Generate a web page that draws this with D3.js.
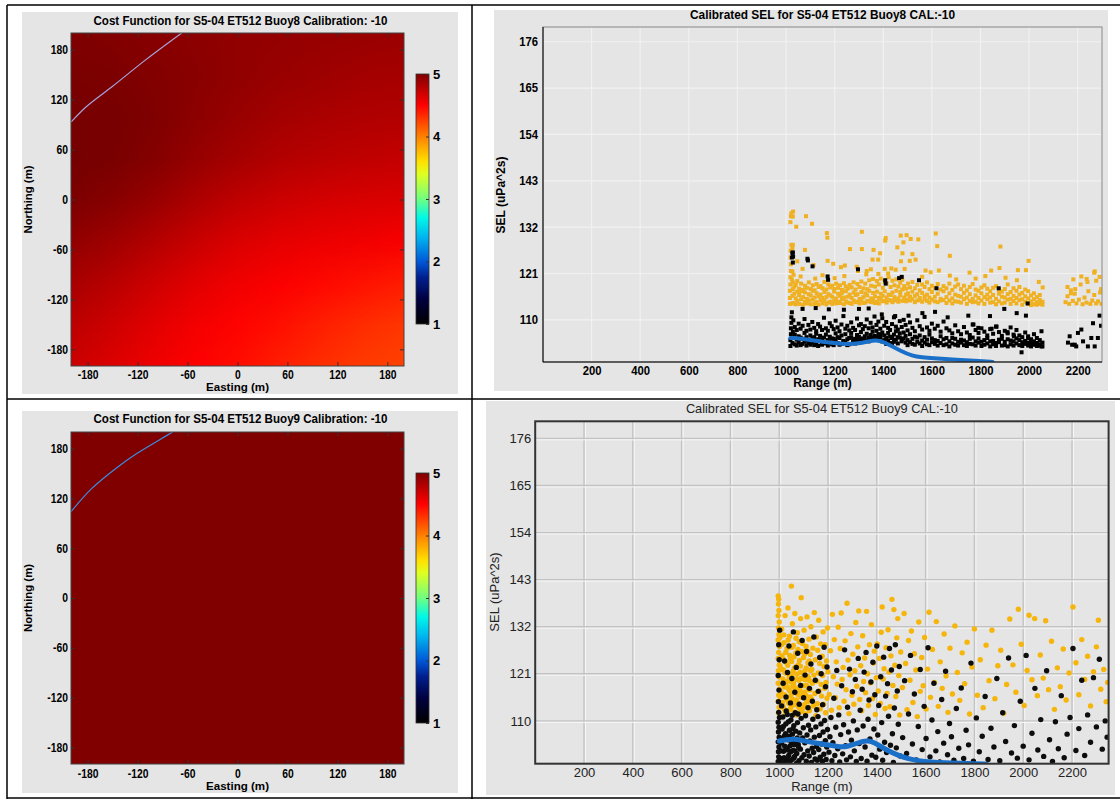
<!DOCTYPE html>
<html><head><meta charset="utf-8">
<script src="https://cdn.jsdelivr.net/npm/d3@7"></script>
<style>body{margin:0;background:#fff}svg{display:block}</style>
</head><body>
<svg id="chart" width="1120" height="799"></svg>
<script>
// ================= DATA =================
const eastingTicks = [-180, -120, -60, 0, 60, 120, 180];
const northingTicks = [-180, -120, -60, 0, 60, 120, 180];
const costTicks = [1, 2, 3, 4, 5];
const rangeTicks = [200, 400, 600, 800, 1000, 1200, 1400, 1600, 1800, 2000, 2200];
const selTicks = [110, 121, 132, 143, 154, 165, 176];

const titles = {
  cost8: "Cost Function for S5-04 ET512 Buoy8 Calibration: -10",
  cost9: "Cost Function for S5-04 ET512 Buoy9 Calibration: -10",
  sel8: "Calibrated SEL for S5-04 ET512 Buoy8 CAL:-10",
  sel9: "Calibrated SEL for S5-04 ET512 Buoy9 CAL:-10"
};

// colour map of the cost function colour bar
const cmapStops  = [1, 1.4, 1.75, 2, 2.4, 2.7, 3, 3.4, 3.6, 4, 4.5, 5, 5.1];
const cmapColors = ["#000000","#000040","#002090","#0058d8","#00b8f0","#00f8e8","#70ff80","#e0ff20","#ffe000","#ff8000","#ff0000","#800000","#700000"];

// cost-function grids (rows: northing 200 -> -200, cols: easting -200 -> 200)
const gridEasting = [-200, -150, -100, -50, 0, 50, 100, 150, 200];
const gridNorthing = [200, 150, 100, 50, 0, -50, -100, -150, -200];
const costBuoy8 = [
  [5.00, 4.99, 4.97, 4.95, 4.93, 4.92, 4.91, 4.90, 4.89],
  [5.03, 5.02, 4.99, 4.96, 4.93, 4.90, 4.88, 4.86, 4.85],
  [5.05, 5.05, 5.00, 4.95, 4.90, 4.86, 4.83, 4.81, 4.80],
  [5.06, 5.04, 4.98, 4.91, 4.85, 4.80, 4.77, 4.75, 4.73],
  [5.02, 4.97, 4.90, 4.82, 4.75, 4.70, 4.67, 4.65, 4.64],
  [4.93, 4.87, 4.79, 4.71, 4.64, 4.60, 4.57, 4.55, 4.52],
  [4.84, 4.77, 4.69, 4.61, 4.55, 4.51, 4.47, 4.43, 4.39],
  [4.76, 4.69, 4.61, 4.54, 4.49, 4.44, 4.38, 4.33, 4.29],
  [4.70, 4.63, 4.56, 4.50, 4.45, 4.38, 4.32, 4.27, 4.24]
];
const costBuoy9 = [
  [5, 5, 5, 5, 5, 5, 5, 5, 5],
  [5, 5, 5, 5, 5, 5, 5, 5, 5],
  [5, 5, 5, 5, 5, 5, 5, 5, 5],
  [5, 5, 5, 5, 5, 5, 5, 5, 5],
  [5, 5, 5, 5, 5, 5, 5, 5, 5],
  [5, 5, 5, 5, 5, 5, 5, 5, 5],
  [5, 5, 5, 5, 5, 5, 5, 5, 5],
  [5, 5, 5, 5, 5, 5, 5, 5, 5],
  [5, 5, 5, 5, 5, 5, 5, 5, 5]
];
const contourBuoy8 = [[-200, 93], [-181, 112], [-150, 136], [-110, 168], [-67, 200]];
const contourBuoy9 = [[-200, 104], [-175, 132], [-145, 157], [-121, 174], [-93, 191], [-78, 200]];

// ---- Buoy8 SEL (range m, SEL) ----
// dense orange band: [range, sel, sel, ...]
const sel8HighBand = [
 [1016,113.8,115.2,116.9],[1018,118.4,120.1,133.2],[1020,121.6,123.2,134.6],[1019,124.8,126.4],[1022,127.8,135.3],
 [1024,113.9,119.6],[1026,115.7,121.5],[1028,117.3,118.9],[1031,120.7,114.0],
 [1034,116.2,117.9],[1040,115.1,113.7,118.3],[1046,116.7,114.5,119.2],[1054,113.8,115.9,117.4],
 [1062,114.9,116.8,118.6],[1070,113.6,115.4,117.1],[1078,114.3,116.5,118.1],[1086,115.0,113.9,117.6],
 [1094,116.1,114.6,118.9],[1102,113.7,115.8,117.3],[1110,114.8,116.9,118.2],[1118,115.3,113.8,117.0],
 [1126,114.2,116.3,118.5],[1134,115.6,113.6,117.8],[1142,114.7,116.0,118.0],[1150,113.9,115.2,117.5],
 [1158,114.5,116.6,119.0],[1166,115.4,113.7,117.2],[1174,114.1,116.1,118.4],[1182,115.8,114.3,117.7],
 [1190,113.8,115.5,118.1],[1198,114.6,116.7,117.3],[1206,115.1,113.9,118.6],[1214,114.3,116.2,117.6],
 [1222,115.7,114.0,118.2],[1230,114.9,116.4,117.1],[1238,113.7,115.3,118.7],[1246,114.4,116.8,117.9],
 [1254,115.5,114.1,117.4],[1262,114.0,116.0,118.3],[1270,115.2,113.8,117.7],[1278,114.6,116.5,118.9],
 [1286,115.9,114.2,117.2],[1294,114.3,116.1,118.5],[1302,115.0,113.9,117.8],[1310,114.7,116.6,119.1],
 [1318,115.4,114.0,117.5],[1326,114.1,116.3,118.6],[1334,115.8,114.5,117.3],[1342,114.4,116.9,119.4],
 [1350,115.1,114.2,118.1],[1358,114.8,116.4,119.7],[1366,115.6,114.0,117.9],[1374,114.3,116.7,119.2],
 [1382,115.2,113.9,118.4],[1390,114.9,116.2,119.8],[1398,115.7,114.4,117.6],[1406,114.5,116.8,119.0],
 [1414,115.3,114.1,118.7],[1422,114.7,116.0,120.1],[1430,115.9,114.6,117.8],[1438,114.2,116.5,119.3],
 [1446,115.4,114.8,118.2],[1454,114.6,116.9,119.6],[1462,115.1,114.3,117.9],[1470,115.8,116.6,118.8],
 [1478,114.5,117.2,119.5],[1486,115.3,114.9,118.0],[1494,116.0,114.4,117.4],[1502,114.8,116.3,118.6],
 [1510,115.5,114.6,117.7],[1520,114.9,116.7,119.0],[1530,115.7,114.2,117.5],[1540,114.6,116.1,118.3],
 [1550,115.2,114.7,117.0],[1560,114.3,116.4,118.4],[1570,115.6,114.9,117.8],[1580,114.5,116.0,118.9],
 [1590,115.3,114.1,117.3],[1600,114.8,116.6,118.1],[1612,115.5,114.4,117.6],[1624,114.2,116.2,118.5],
 [1636,115.0,114.6,117.2],[1648,114.7,116.8,118.0],[1660,115.4,114.0,117.5],[1672,114.6,116.3,118.6],
 [1684,115.1,113.9,117.1],[1696,114.4,116.0,117.9],[1708,115.7,114.3,118.4],[1720,114.1,115.5,117.3],
 [1732,114.9,116.4,118.1],[1744,115.3,113.8,117.0],[1756,114.5,116.1,117.8],[1768,115.0,114.2,118.5],
 [1780,114.3,115.8,117.2],[1792,115.2,113.9,116.9],[1804,114.6,116.3,117.7],[1816,113.8,115.4,118.2],
 [1828,114.9,116.0,117.4],[1840,115.3,114.1,116.8],[1852,114.2,115.9,117.6],[1864,115.0,113.7,118.0],
 [1876,114.4,116.2,117.1],[1888,115.5,113.9,116.7],[1900,114.1,115.3,117.3],[1912,114.8,116.1,118.4],
 [1924,113.8,115.0,116.6],[1936,114.5,115.7,117.5],[1948,113.9,115.2,116.9],[1960,114.7,116.0,117.8],
 [1972,113.6,114.9,116.4],[1984,114.3,115.6,117.2],[1996,113.8,115.1,116.8],[2008,114.4,115.8,113.5],
 [2020,113.7,114.9,116.3],[2032,114.2,115.4,113.6],[2044,113.8,114.7,115.9],[2055,113.6,114.3],
 [2150,114.2],[2158,115.6,117.8],[2165,113.8],[2172,117.0],[2180,114.5],[2182,119.6],[2188,116.2],[2195,113.9],
 [2205,114.8],[2212,118.4],[2215,120.3],[2220,113.7],[2228,115.3],[2236,114.1],[2240,119.0],[2244,116.8],
 [2252,113.8],[2260,114.6],[2268,115.9],[2270,121.5],[2276,113.9],[2284,114.4],[2290,120.2],[2292,116.5],[2296,117.3],[2298,113.8]
];
const sel8HighSparse = [
 [1029,135.7],[1028,134.5],[1082,134.6],[1042,132.1],[1107,132.8],[1168,130.6],[1170,129.5],[1312,130.9],
 [1408,128.8],[1410,129.4],[1472,130.0],[1496,130.1],[1483,128.4],[1544,129.1],[1616,130.5],[1622,127.5],
 [1674,125.2],[1882,127.4],[1028,127.8],[1026,127.0],[1078,126.6],[1263,126.8],[1312,126.8],[1360,126.6],
 [1387,125.8],[1458,127.2],[1479,125.8],[1520,125.6],[1513,129.2],[1046,123.9],[1068,122.1],[1113,123.0],
 [1171,124.0],[1194,123.3],[1226,122.5],[1242,122.9],[1291,122.6],[1296,121.6],[1332,121.6],[1349,122.0],
 [1379,124.3],[1356,124.3],[1406,122.1],[1433,122.2],[1451,121.9],[1473,123.9],[1488,122.1],[1509,124.0],
 [1533,124.3],[1574,121.7],[1595,121.3],[1629,121.7],[1674,120.5],[1755,121.2],[1844,121.7],[1878,122.3],
 [1903,120.0],[1954,121.8],[1987,121.8],[1998,124.0],[2056,117.7],[2172,116.3],[2190,117.3],[2237,119.7],
 [2268,121.2],[2276,119.3],[1060,120.3],[1120,119.8],[1150,120.6],[1200,119.9],[1240,120.4],[1330,120.8],
 [1380,120.9],[1420,121.0],[1560,120.2],[1700,119.6],[1780,119.8],[1820,120.4],[1950,119.4],[2040,119.0]
];
// dense black band: [range, sel, sel, ...]
const sel8LowBand = [
 [1018,103.8,105.2],[1020,106.6,108.0],[1022,109.3,110.6],[1024,111.8,124.8],[1026,104.5,125.9],[1028,107.2,123.6],[1030,109.9],
 [1036,104.2,106.5,108.3],[1044,105.3,103.9,107.6],[1052,106.1,104.7,109.1],[1060,104.0,105.8,107.9],
 [1068,105.5,104.3,108.6],[1076,104.8,106.9,110.2],[1084,103.9,105.9,107.4],[1092,105.1,104.5,108.8],
 [1100,106.3,104.1,107.7],[1108,104.6,105.6,109.5],[1116,105.9,104.0,108.1],[1124,104.3,106.7,107.3],
 [1132,105.4,103.8,109.0],[1140,104.9,106.2,108.4],[1148,104.1,105.3,107.6],[1156,105.8,104.6,110.5],
 [1164,104.4,106.5,108.0],[1172,105.2,103.9,107.4],[1180,104.7,106.0,109.2],[1188,105.6,104.2,108.5],
 [1196,104.0,105.5,107.8],[1204,105.1,106.8,109.8],[1212,104.5,105.9,108.2],[1220,105.7,104.1,107.3],
 [1228,104.3,106.3,108.9],[1236,105.0,104.8,110.9],[1244,104.6,106.6,107.9],[1252,105.4,104.0,108.6],
 [1260,104.2,105.7,107.5],[1268,105.9,106.9,109.4],[1276,104.7,105.2,108.1],[1284,105.5,104.4,107.6],
 [1292,104.9,106.4,110.3],[1300,105.3,106.0,108.7],[1308,104.8,107.1,109.0],[1316,105.6,104.9,107.8],
 [1324,106.1,105.2,108.5],[1332,105.0,106.7,110.1],[1340,105.8,104.9,108.0],[1348,106.4,105.5,109.3],
 [1356,105.7,107.2,108.2],[1364,106.2,105.9,110.8],[1372,106.0,107.4,108.8],[1380,105.8,106.6,109.6],
 [1388,106.5,105.9,107.9],[1396,104.9,107.0,110.4],[1404,105.2,106.3,108.6],[1412,104.3,105.8,109.5],
 [1420,105.0,106.9,108.1],[1428,104.5,106.0,107.6],[1436,105.7,104.1,109.0],[1444,104.8,106.5,110.6],
 [1452,105.3,107.3,108.4],[1460,104.4,105.9,107.7],[1468,105.8,106.8,109.7],[1476,104.9,105.4,108.3],
 [1484,105.6,107.0,110.0],[1492,104.6,106.2,108.8],[1500,105.2,104.0,107.5],[1510,104.7,106.6,109.4],
 [1520,105.5,104.3,108.1],[1530,104.1,106.0,107.3],[1540,105.8,104.8,109.9],[1550,104.4,106.3,108.5],
 [1560,105.1,103.8,107.7],[1570,104.6,105.9,110.7],[1580,105.3,104.2,108.2],[1590,104.0,106.5,107.4],
 [1600,105.6,104.7,109.1],[1612,104.3,105.2,107.9],[1624,105.0,103.9,108.6],[1636,104.5,106.1,107.2],
 [1648,105.4,104.0,109.6],[1660,104.2,105.7,108.0],[1672,104.9,103.7,107.5],[1684,105.7,104.4,106.8],
 [1696,104.1,105.5,108.7],[1708,104.8,103.9,107.3],[1720,105.3,104.6,106.6],[1732,104.0,105.1,108.3],
 [1744,104.7,103.8,107.0],[1756,105.5,104.3,106.4],[1768,104.2,105.8,108.9],[1780,103.9,104.9,107.6],
 [1792,104.6,105.6,106.9],[1804,103.8,104.8,108.0],[1816,105.2,104.1,107.2],[1828,104.4,105.7,106.3],
 [1840,103.7,104.9,107.8],[1852,105.0,104.2,106.7],[1864,104.5,103.8,108.4],[1876,105.3,104.7,107.1],
 [1888,103.9,105.5,106.2],[1900,104.8,104.0,107.4],[1912,105.4,103.7,106.8],[1924,104.2,105.1,108.2],
 [1936,104.9,103.9,106.5],[1948,105.6,104.4,107.6],[1960,104.0,105.2,106.3],[1972,104.7,103.8,105.9],
 [1984,104.3,105.0,107.0],[1996,103.9,104.6,106.1],[2008,104.5,103.7,105.4],[2020,104.1,104.9,106.6],
 [2032,103.8,104.4,105.7],[2044,104.2,103.9,105.2],[2055,103.7,104.6]
];
const sel8LowSparse = [
 [1028,126.0],[1029,125.0],[1088,124.5],[1090,124.1],[1109,122.7],[1171,120.3],[1173,119.5],[1296,122.0],
 [1408,119.4],[1410,118.6],[1465,119.9],[1476,120.2],[1547,119.4],[1619,117.5],[1875,117.5],[1994,113.9],
 [1068,112.6],[1122,112.8],[1176,112.5],[1238,112.4],[1300,112.6],[1340,112.7],[1394,111.3],[1449,110.9],
 [1504,111.0],[1561,111.6],[1613,111.9],[1665,110.6],[1750,111.0],[1839,110.9],[1898,112.6],[1949,111.6],
 [1987,111.0],[2051,107.3],[1771,108.9],[1791,108.1],[1846,107.9],[1866,108.4],[1911,107.1],[1938,106.1],
 [1969,102.3],[1996,105.7],[2030,104.5],[2051,103.7],[2167,106.1],[2201,106.9],[2215,107.7],[2242,103.7],
 [2263,109.2],[2270,103.7],[2283,105.7],[2188,104.1],[2177,104.1],[2256,105.7],[2222,104.9],[2194,103.7],
 [2290,111.0],[2296,108.6],[2160,104.6]
];
const sel8Model = [[1018,105.7],[1050,105.6],[1100,105.2],[1150,104.8],[1200,104.5],[1250,104.2],[1300,104.4],
 [1340,104.9],[1370,105.2],[1400,104.8],[1430,103.9],[1470,102.7],[1520,101.4],[1560,101.1],[1600,100.9],
 [1700,100.5],[1800,100.2],[1850,100.0]];

// ---- Buoy9 SEL (range m, SEL) ----
const sel9High = [
 [996,139.2],[998,138.4],[997,137.3],[999,135.8],[996,134.6],[1000,133.1],[997,131.7],[999,130.2],[996,128.9],[1001,127.4],
 [998,126.0],[996,124.6],[1000,123.1],[997,121.7],[999,120.3],[996,118.8],[1001,117.4],[998,116.0],[996,114.6],[1000,113.2],
 [997,111.9],[1003,129.5],[1004,122.8],[1005,115.7],
 [1010,131.5],[1012,125.2],[1014,118.6],[1016,113.4],[1018,121.9],[1020,128.3],[1022,116.1],[1024,134.6],[1026,111.8],[1028,123.7],
 [1030,119.2],[1032,126.9],[1034,114.8],[1036,136.4],[1038,121.0],[1040,117.3],[1042,129.8],[1044,112.6],[1046,124.5],[1048,115.9],
 [1050,141.5],[1052,120.4],[1054,132.7],[1056,118.1],[1058,127.6],[1060,113.7],[1062,122.3],[1064,135.1],[1066,116.8],[1068,125.9],
 [1070,111.4],[1072,119.7],[1074,130.6],[1076,114.2],[1078,123.1],[1080,117.8],[1082,128.5],[1084,112.9],[1086,121.4],[1088,133.9],
 [1090,138.8],[1092,115.5],[1094,126.2],[1096,119.9],[1098,113.1],[1100,124.8],[1102,131.2],[1104,116.7],[1106,121.8],[1108,111.6],
 [1110,127.4],[1112,118.3],[1114,134.3],[1116,114.5],[1118,123.6],[1120,120.1],[1122,129.1],[1124,112.4],[1126,117.2],[1128,125.5],
 [1130,132.0],[1132,115.1],[1134,122.0],[1136,118.8],[1138,127.0],[1140,113.5],[1142,120.7],[1144,135.3],[1146,116.4],[1148,124.3],
 [1150,111.2],[1152,129.6],[1154,119.3],[1156,114.0],[1158,126.5],[1160,121.2],[1162,133.5],[1164,117.0],[1166,123.4],[1168,112.8],
 [1170,128.0],[1172,118.5],[1174,115.8],[1176,125.1],[1178,120.6],[1180,130.8],[1182,113.9],[1184,122.7],[1186,117.6],[1188,127.8],
 [1190,111.9],[1192,119.0],[1194,124.0],[1196,115.3],[1198,131.7],[1200,121.5],
 [1007,116.8],[1009,122.1],[1011,127.9],[1013,114.3],[1015,119.8],[1017,124.4],[1019,130.1],[1021,112.7],[1023,117.9],[1025,121.2],
 [1027,126.0],[1029,115.2],[1031,112.3],[1033,118.0],[1035,123.0],[1037,128.9],[1039,114.1],[1041,120.2],[1043,125.3],[1045,116.9],
 [1047,113.0],[1049,119.1],[1051,123.9],[1053,127.2],[1055,115.0],[1057,121.6],[1059,118.7],[1061,125.0],[1063,112.1],[1065,117.5],
 [1067,122.6],[1069,129.3],[1071,114.9],[1073,120.9],[1075,116.2],[1077,126.7],[1079,113.3],[1081,119.5],[1083,124.1],[1085,117.1],
 [1087,122.8],[1089,115.7],[1091,120.0],[1093,112.2],[1095,128.1],[1097,116.3],[1099,121.1],[1101,118.2],[1103,113.8],[1105,125.7],
 [1107,119.6],[1109,116.0],[1111,122.4],[1113,114.7],[1115,120.5],[1117,126.3],[1119,117.4],[1121,113.2],[1123,124.0],[1125,119.4],
 [1127,115.6],[1129,121.8],
 [1205,116.2],[1210,126.4],[1214,112.5],[1218,134.9],[1222,120.3],[1226,129.0],[1230,115.4],[1234,123.8],[1238,118.6],[1242,131.9],
 [1246,113.1],[1250,126.9],[1254,135.2],[1258,119.7],[1262,122.5],[1266,114.6],[1270,128.7],[1274,117.3],[1278,137.5],[1282,124.2],
 [1286,111.7],[1290,120.8],[1294,130.4],[1298,116.0],[1302,125.6],[1306,113.9],[1310,121.7],[1314,133.0],[1318,118.1],[1322,127.3],
 [1326,135.7],[1330,115.0],[1334,122.9],[1338,112.4],[1342,129.9],[1346,119.2],[1350,124.7],[1354,116.6],[1358,135.6],[1362,121.0],
 [1366,113.6],[1370,127.8],[1374,118.9],[1378,132.5],[1382,115.2],[1386,123.5],[1390,126.3],[1394,111.5],[1398,120.1],[1402,128.0],
 [1406,117.0],[1410,124.6],[1414,114.1],[1418,130.7],[1422,136.6],[1426,119.8],[1430,122.2],[1434,112.9],[1438,127.1],[1442,116.4],
 [1446,131.3],[1450,121.4],[1454,113.3],[1458,125.2],[1462,138.4],[1466,118.3],[1470,136.0],[1474,123.0],[1478,115.7],[1482,129.4],
 [1486,133.9],[1490,120.6],[1494,111.4],[1498,126.1],
 [1505,117.8],[1512,135.1],[1518,123.4],[1524,112.6],[1530,128.8],[1536,119.5],[1542,131.0],[1548,114.3],[1554,125.7],[1560,121.9],
 [1566,111.0],[1572,133.1],[1578,116.9],[1584,124.8],[1590,118.2],[1596,129.5],[1602,112.8],[1608,122.1],[1614,135.4],[1620,115.5],
 [1628,126.7],[1636,119.0],[1644,133.2],[1652,113.4],[1660,123.8],[1668,117.6],[1676,130.3],[1684,120.5],[1692,112.0],[1700,127.0],
 [1710,116.3],[1720,132.2],[1730,121.3],[1740,114.8],[1750,125.9],[1760,118.7],[1770,128.4],[1780,111.6],[1790,122.6],[1800,131.5],
 [1812,116.0],[1824,124.3],[1836,113.1],[1848,127.7],[1860,119.4],[1872,131.2],[1884,115.2],[1896,122.9],[1908,126.5],[1920,111.8],
 [1932,118.5],[1945,133.8],[1958,123.1],[1970,116.7],[1980,136.1],[1992,127.9],[2004,113.6],[2016,121.8],[2024,134.7],[2036,119.6],
 [2047,133.9],[2058,115.9],[2070,125.4],[2082,120.0],[2092,133.4],[2104,117.3],[2116,128.6],[2128,112.7],[2140,122.4],[2152,118.0],
 [2164,126.8],[2176,114.9],[2188,121.2],[2204,136.6],[2216,123.6],[2228,116.1],[2240,129.0],[2252,119.7],[2264,125.1],[2276,113.5],
 [2288,121.5],[2300,127.3],[2308,133.5],[2318,117.4],[2330,122.0],[2340,114.5],[2346,119.0]
];
const sel9Low = [
 [996,100.5],[998,101.6],[997,102.8],[999,103.9],[996,105.1],[1000,106.2],[997,107.4],[999,108.5],[996,109.7],[1001,110.8],
 [998,112.0],[997,114.5],[999,117.2],[996,120.6],[1000,124.3],[998,127.8],[1002,131.2],
 [1006,101.2],[1009,104.8],[1012,108.1],[1015,110.9],[1018,102.9],[1021,106.5],[1024,100.4],[1027,109.3],[1030,103.7],[1033,111.5],
 [1036,105.6],[1039,101.9],[1042,107.8],[1045,104.2],[1048,110.2],[1051,100.9],[1054,106.9],[1057,103.1],[1060,108.9],[1063,101.7],
 [1066,111.9],[1069,105.0],[1072,102.4],[1075,109.6],[1078,104.5],[1081,100.7],[1084,107.2],[1087,103.4],[1090,110.6],[1093,101.4],
 [1096,106.0],[1099,108.4],[1102,102.1],[1105,104.9],[1108,111.2],[1111,100.6],[1114,106.7],[1117,103.0],[1120,109.0],[1123,101.8],
 [1126,105.3],[1129,107.9],[1132,100.3],[1135,103.6],[1138,110.4],[1141,102.6],[1144,106.2],[1147,101.1],[1150,108.6],[1153,104.0],
 [1156,100.8],[1159,111.0],[1162,103.3],[1165,106.6],[1168,101.5],[1171,109.3],[1174,104.6],[1177,100.5],[1180,107.4],[1183,102.2],
 [1186,110.1],[1189,105.4],[1192,101.0],[1195,103.9],[1198,108.0],
 [1008,103.0],[1011,100.2],[1014,105.9],[1017,108.7],[1020,101.4],[1023,104.1],[1026,107.0],[1029,112.3],[1032,101.0],[1035,103.2],
 [1038,109.8],[1041,106.4],[1044,100.6],[1047,102.8],[1050,105.2],[1053,111.3],[1056,108.2],[1059,101.3],[1062,104.4],[1065,103.0],
 [1068,107.6],[1071,100.1],[1074,106.0],[1077,111.6],[1080,103.8],
 [1010,113.5],[1016,118.8],[1022,124.0],[1028,115.6],[1034,121.3],[1040,127.5],[1046,114.2],[1052,119.9],[1058,130.8],[1064,116.7],
 [1070,122.5],[1076,125.8],[1082,113.9],[1088,118.3],[1094,128.8],[1100,115.4],[1106,120.7],[1112,126.2],[1118,113.1],[1124,117.6],
 [1130,123.3],[1136,114.6],[1142,129.6],[1148,119.5],[1154,112.6],[1160,116.9],[1166,124.8],[1172,121.0],[1178,113.8],[1184,127.2],
 [1190,118.0],[1196,122.6],
 [1204,102.7],[1208,106.3],[1212,110.8],[1216,100.7],[1220,104.9],[1224,115.3],[1228,101.9],[1232,108.5],[1236,121.8],[1240,103.5],
 [1244,111.4],[1248,100.4],[1252,106.8],[1256,118.2],[1260,102.3],[1264,109.1],[1268,126.6],[1272,104.2],[1276,100.9],[1280,113.2],
 [1284,107.4],[1288,122.1],[1292,101.6],[1296,105.5],[1300,116.8],[1304,110.0],[1308,103.0],[1312,119.7],[1316,100.5],[1320,107.9],
 [1324,124.6],[1328,104.7],[1332,112.5],[1336,101.2],[1340,117.4],[1344,108.8],[1348,121.4],[1352,103.9],[1356,126.0],[1360,100.6],
 [1364,110.4],[1368,114.9],[1372,105.8],[1376,119.1],[1380,102.0],[1384,123.7],[1388,108.1],[1392,116.1],[1396,101.5],[1400,127.5],
 [1404,106.7],[1408,113.6],[1412,103.4],[1416,120.3],[1420,109.6],[1424,100.8],[1428,124.9],[1432,105.0],[1436,115.8],[1440,102.6],
 [1444,118.7],[1448,111.1],[1452,126.9],[1456,104.3],[1460,121.9],[1464,107.0],[1468,100.3],[1472,113.0],[1476,127.8],[1480,103.7],
 [1484,117.0],[1488,109.2],[1492,122.7],[1496,101.8],
 [1506,106.1],[1514,119.4],[1522,102.4],[1530,111.6],[1538,125.3],[1546,104.6],[1554,116.3],[1562,100.9],[1570,108.7],[1578,122.0],
 [1586,103.3],[1594,113.4],[1602,105.9],[1610,127.1],[1618,101.6],[1626,110.2],[1634,118.8],[1642,103.0],[1650,107.5],[1658,100.4],
 [1666,115.0],[1674,104.8],[1682,121.6],[1690,102.1],[1698,109.4],[1706,106.3],[1716,100.8],[1726,112.9],[1736,103.6],[1746,117.7],
 [1756,101.2],[1766,107.8],[1776,104.4],[1786,123.5],[1796,100.6],[1808,110.7],[1820,102.8],[1832,106.4],[1844,115.7],[1856,101.0],
 [1868,108.3],[1880,103.9],[1892,119.9],[1904,100.7],[1916,111.9],[1928,105.2],[1940,124.7],[1952,102.5],[1964,108.9],[1976,101.3],
 [1988,114.6],[2000,104.1],[2012,125.3],[2024,100.9],[2036,107.1],[2048,117.6],[2060,103.2],[2072,110.3],[2084,101.7],[2096,121.7],
 [2108,105.6],[2120,100.5],[2132,109.8],[2144,103.5],[2156,115.9],[2168,101.4],[2180,106.9],[2192,110.8],[2204,126.9],[2216,103.1],
 [2228,108.2],[2240,119.5],[2252,101.9],[2264,111.4],[2276,105.0],[2288,120.1],[2300,108.6],[2312,124.4],[2324,103.4],[2336,110.0],[2344,106.2]
];
const sel9Model = [[1000,105.3],[1030,105.6],[1060,105.8],[1090,105.5],[1130,105.0],[1170,104.7],[1210,104.3],[1250,103.9],
 [1280,104.0],[1310,104.6],[1340,105.2],[1365,105.4],[1390,104.9],[1420,103.9],[1450,102.9],[1490,101.9],[1530,101.1],
 [1570,100.7],[1620,100.4],[1680,100.2],[1740,100.1],[1800,100.0],[1850,99.9]];

// ================= DRAWING =================
const NARROW = '"Liberation Sans Narrow","Arial Narrow","Liberation Sans",Arial,sans-serif';
const REG = '"Liberation Sans",Arial,Helvetica,sans-serif';
const svg = d3.select('#chart');
const defs = svg.append('defs');
const cmap = d3.scaleLinear().domain(cmapStops).range(cmapColors).clamp(true);
const fmt = d => String(d);
const noLabel = () => '';

const grad = defs.append('linearGradient').attr('id', 'cbgrad')
  .attr('x1', 0).attr('y1', 1).attr('x2', 0).attr('y2', 0);
cmapStops.filter(s => s <= 5).forEach(s =>
  grad.append('stop').attr('offset', (s - 1) / 4).attr('stop-color', cmap(s)));

function styleAxis(sel, font, size, weight) {
  sel.select('.domain').remove();
  sel.selectAll('line').attr('stroke', '#333');
  sel.selectAll('text').attr('font-family', font).attr('font-size', size)
    .attr('font-weight', weight).attr('fill', '#000');
}
// condense text horizontally (the reference uses a narrow face)
function condense(sel, factor) {
  sel.each(function () {
    const w = this.getComputedTextLength();
    if (w > 0) d3.select(this).attr('textLength', w * factor).attr('lengthAdjust', 'spacingAndGlyphs');
  });
}

function heatPanel(o) {
  const g = svg.append('g');
  g.append('rect').attr('x', o.bg[0]).attr('y', o.bg[1]).attr('width', o.bg[2]).attr('height', o.bg[3]).attr('fill', '#e5e5e5');
  const [px, py, pw, ph] = o.plot;
  const x = d3.scaleLinear().domain([-200, 200]).range([px, px + pw]);
  const y = d3.scaleLinear().domain([-200, 200]).range([py + ph, py]);
  const nx = gridEasting.length, ny = gridNorthing.length;
  const cv = document.createElement('canvas'); cv.width = nx; cv.height = ny;
  const ctx = cv.getContext('2d');
  o.grid.forEach((row, i) => row.forEach((v, j) => { ctx.fillStyle = cmap(v); ctx.fillRect(j, i, 1, 1); }));
  const hx = (gridEasting[1] - gridEasting[0]) / 2, hy = (gridNorthing[0] - gridNorthing[1]) / 2;
  defs.append('clipPath').attr('id', o.id).append('rect').attr('x', px).attr('y', py).attr('width', pw).attr('height', ph);
  g.append('image').attr('href', cv.toDataURL())
    .attr('x', x(gridEasting[0] - hx)).attr('y', y(gridNorthing[0] + hy))
    .attr('width', x(gridEasting[nx - 1] + hx) - x(gridEasting[0] - hx))
    .attr('height', y(gridNorthing[ny - 1] - hy) - y(gridNorthing[0] + hy))
    .attr('preserveAspectRatio', 'none').attr('clip-path', `url(#${o.id})`);
  g.append('path').datum(o.contour)
    .attr('d', d3.line().x(d => x(d[0])).y(d => y(d[1])).curve(d3.curveCatmullRom))
    .attr('fill', 'none').attr('stroke', o.lineColor).attr('stroke-width', 1.2).attr('clip-path', `url(#${o.id})`);
  g.append('rect').attr('x', px).attr('y', py).attr('width', pw).attr('height', ph)
    .attr('fill', 'none').attr('stroke', '#444').attr('stroke-width', 1);
  const bx = g.append('g').attr('transform', `translate(0,${py + ph})`)
    .call(d3.axisBottom(x).tickValues(eastingTicks).tickSize(-4).tickPadding(o.xPad).tickFormat(fmt))
    .call(s => styleAxis(s, NARROW, 12, 'bold'));
  const ly = g.append('g').attr('transform', `translate(${px},0)`)
    .call(d3.axisLeft(y).tickValues(northingTicks).tickSize(-4).tickPadding(3).tickFormat(fmt))
    .call(s => styleAxis(s, NARROW, 12, 'bold'));
  g.append('g').attr('transform', `translate(0,${py})`)
    .call(d3.axisTop(x).tickValues(eastingTicks).tickSize(-4).tickFormat(noLabel))
    .call(s => styleAxis(s, NARROW, 12, 'bold'));
  g.append('g').attr('transform', `translate(${px + pw},0)`)
    .call(d3.axisRight(y).tickValues(northingTicks).tickSize(-4).tickFormat(noLabel))
    .call(s => styleAxis(s, NARROW, 12, 'bold'));
  condense(bx.selectAll('text'), 0.86);
  condense(ly.selectAll('text'), 0.86);
  // colour bar
  const c = o.cbar;
  const cy = d3.scaleLinear().domain([1, 5]).range([c[1] + c[3], c[1]]);
  g.append('rect').attr('x', c[0]).attr('y', c[1]).attr('width', c[2]).attr('height', c[3])
    .attr('fill', 'url(#cbgrad)').attr('stroke', '#333').attr('stroke-width', 0.8);
  g.append('g').attr('transform', `translate(${c[0] + c[2]},0)`)
    .call(d3.axisRight(cy).tickValues(costTicks).tickSize(-3).tickPadding(4).tickFormat(fmt))
    .call(s => styleAxis(s, NARROW, 13, 'bold'));
  // texts
  g.append('text').attr('x', px + pw / 2 + 3).attr('y', o.titleY).attr('text-anchor', 'middle')
    .attr('font-family', NARROW).attr('font-weight', 'bold').attr('font-size', 12)
    .attr('textLength', 294).attr('lengthAdjust', 'spacingAndGlyphs').text(o.title);
  g.append('text').attr('x', px + pw / 2).attr('y', o.xlabY).attr('text-anchor', 'middle')
    .attr('font-family', NARROW).attr('font-weight', 'bold').attr('font-size', 11.5)
    .attr('textLength', 63).attr('lengthAdjust', 'spacingAndGlyphs').text('Easting (m)');
  g.append('text').attr('transform', `translate(28,${py + ph / 2}) rotate(-90)`).attr('text-anchor', 'middle')
    .attr('dominant-baseline', 'central')
    .attr('font-family', NARROW).attr('font-weight', 'bold').attr('font-size', 11.5)
    .attr('textLength', 68).attr('lengthAdjust', 'spacingAndGlyphs').text('Northing (m)');
}

function selPanel(o) {
  const g = svg.append('g');
  g.append('rect').attr('x', o.bg[0]).attr('y', o.bg[1]).attr('width', o.bg[2]).attr('height', o.bg[3]).attr('fill', '#e5e5e5');
  const [x0, x1, y0, y1] = o.plot;
  const x = d3.scaleLinear().domain(o.xDom).range([x0, x1]);
  const y = d3.scaleLinear().domain(o.yDom).range([y1, y0]);
  // grid
  const gg = g.append('g');
  if (o.modern) {
    rangeTicks.forEach(t => {
      gg.append('line').attr('x1', x(t)).attr('x2', x(t)).attr('y1', y0).attr('y2', y1).attr('stroke', '#c3c3c3').attr('stroke-width', 1.4);
      gg.append('line').attr('x1', x(t) + 1.5).attr('x2', x(t) + 1.5).attr('y1', y0).attr('y2', y1).attr('stroke', '#f6f6f6').attr('stroke-width', 1);
    });
    selTicks.forEach(t => {
      gg.append('line').attr('y1', y(t)).attr('y2', y(t)).attr('x1', x0).attr('x2', x1).attr('stroke', '#c3c3c3').attr('stroke-width', 1.4);
      gg.append('line').attr('y1', y(t) + 1.5).attr('y2', y(t) + 1.5).attr('x1', x0).attr('x2', x1).attr('stroke', '#f6f6f6').attr('stroke-width', 1);
    });
  } else {
    rangeTicks.forEach(t => gg.append('line').attr('x1', x(t)).attr('x2', x(t)).attr('y1', y0).attr('y2', y1).attr('stroke', '#f1f1f1').attr('stroke-width', 1.2));
    selTicks.forEach(t => gg.append('line').attr('y1', y(t)).attr('y2', y(t)).attr('x1', x0).attr('x2', x1).attr('stroke', '#f1f1f1').attr('stroke-width', 1.2));
  }
  defs.append('clipPath').attr('id', o.id).append('rect').attr('x', x0).attr('y', y0).attr('width', x1 - x0).attr('height', y1 - y0);
  const data = g.append('g').attr('clip-path', `url(#${o.id})`);
  o.series.forEach(s => {
    if (o.modern) {
      data.append('g').selectAll('circle').data(s.pts).join('circle')
        .attr('cx', d => x(d[0])).attr('cy', d => y(d[1])).attr('r', 2.7).attr('fill', s.color);
    } else {
      data.append('g').selectAll('rect').data(s.pts).join('rect')
        .attr('x', d => x(d[0]) - 2).attr('y', d => y(d[1]) - 2).attr('width', 4).attr('height', 4).attr('fill', s.color);
    }
  });
  data.append('path').datum(o.model)
    .attr('d', d3.line().x(d => x(d[0])).y(d => y(d[1])).curve(d3.curveBasis))
    .attr('fill', 'none').attr('stroke', '#1a70c8').attr('stroke-width', o.lineW).attr('stroke-linecap', 'round');
  // frame
  if (o.modern) {
    g.append('rect').attr('x', x0).attr('y', y0).attr('width', x1 - x0).attr('height', y1 - y0)
      .attr('fill', 'none').attr('stroke', '#333').attr('stroke-width', 2);
  } else {
    g.append('rect').attr('x', x0).attr('y', y0).attr('width', x1 - x0).attr('height', y1 - y0)
      .attr('fill', 'none').attr('stroke', '#888').attr('stroke-width', 1);
    g.append('line').attr('x1', x0).attr('x2', x0).attr('y1', y0).attr('y2', y1).attr('stroke', '#000');
    g.append('line').attr('x1', x0).attr('x2', x1).attr('y1', y1).attr('y2', y1).attr('stroke', '#000');
  }
  const font = o.modern ? REG : NARROW, size = o.modern ? 13 : 12, weight = o.modern ? 'normal' : 'bold';
  const fill = o.modern ? '#222' : '#000';
  const bx = g.append('g').attr('transform', `translate(0,${y1})`)
    .call(d3.axisBottom(x).tickValues(rangeTicks).tickSize(0).tickPadding(o.xPad).tickFormat(fmt))
    .call(s => { styleAxis(s, font, size, weight); s.selectAll('text').attr('fill', fill); });
  const ly = g.append('g').attr('transform', `translate(${x0},0)`)
    .call(d3.axisLeft(y).tickValues(selTicks).tickSize(0).tickPadding(o.yPad).tickFormat(fmt))
    .call(s => { styleAxis(s, font, size, weight); s.selectAll('text').attr('fill', fill); });
  if (!o.modern) { condense(bx.selectAll('text'), 0.94); condense(ly.selectAll('text'), 0.94); }
  g.append('text').attr('x', (x0 + x1) / 2).attr('y', o.titleY).attr('text-anchor', 'middle')
    .attr('font-family', font).attr('font-weight', weight).attr('font-size', o.modern ? 13 : 12).attr('fill', fill)
    .attr('textLength', o.titleLen).attr('lengthAdjust', 'spacingAndGlyphs').text(o.title);
  g.append('text').attr('x', (x0 + x1) / 2).attr('y', o.xlabY).attr('text-anchor', 'middle')
    .attr('font-family', font).attr('font-weight', weight).attr('font-size', size).attr('fill', fill).text('Range (m)');
  g.append('text').attr('transform', `translate(${o.ylabX},${o.ylabCY}) rotate(-90)`).attr('text-anchor', 'middle')
    .attr('dominant-baseline', 'central')
    .attr('font-family', font).attr('font-weight', weight).attr('font-size', size).attr('fill', fill).text('SEL (uPa^2s)');
}

const flatten = band => band.flatMap(([r, ...vals]) => vals.map(v => [r, v]));

heatPanel({ id: 'clipC8', grid: costBuoy8, contour: contourBuoy8, lineColor: '#a4a4dc',
  bg: [22, 12, 436, 382], plot: [71, 33, 333, 333], cbar: [416, 74, 13, 250],
  title: titles.cost8, titleY: 24.5, xPad: 4, xlabY: 390.5 });
heatPanel({ id: 'clipC9', grid: costBuoy9, contour: contourBuoy9, lineColor: '#3a8ee0',
  bg: [22, 411, 436, 382], plot: [71, 432, 333, 332], cbar: [416, 473, 13, 250],
  title: titles.cost9, titleY: 422.5, xPad: 5, xlabY: 790 });

selPanel({ id: 'clipS8', modern: false, bg: [494, 10, 614, 381], plot: [543, 1102, 27, 362],
  xDom: [0, 2300], yDom: [100, 179.5], xPad: 4, yPad: 5, lineW: 4,
  series: [{ pts: flatten(sel8HighBand).concat(sel8HighSparse), color: '#efb122' },
           { pts: flatten(sel8LowBand).concat(sel8LowSparse), color: '#000000' }],
  model: sel8Model, title: titles.sel8, titleY: 18.5, titleLen: 265, xlabY: 387, ylabX: 501, ylabCY: 195 });

selPanel({ id: 'clipS9', modern: true, bg: [486, 401, 629, 394], plot: [535.2, 1108.6, 421.3, 763.7],
  xDom: [0, 2350], yDom: [100, 180], xPad: 4.5, yPad: 4, lineW: 5,
  series: [{ pts: sel9High, color: '#f5b50a' }, { pts: sel9Low, color: '#0d0d0d' }],
  model: sel9Model, title: titles.sel9, titleY: 412.5, titleLen: 272, xlabY: 790.5, ylabX: 494, ylabCY: 592 });

// table borders
const border = [[7, 5, 1120, 5], [7, 5, 7, 799], [472, 5, 472, 799], [7, 399, 1120, 399], [7, 798, 1120, 798]];
svg.append('g').selectAll('line').data(border).join('line')
  .attr('x1', d => d[0]).attr('y1', d => d[1]).attr('x2', d => d[2]).attr('y2', d => d[3])
  .attr('stroke', '#000').attr('stroke-width', 1.5);
</script>
</body></html>
